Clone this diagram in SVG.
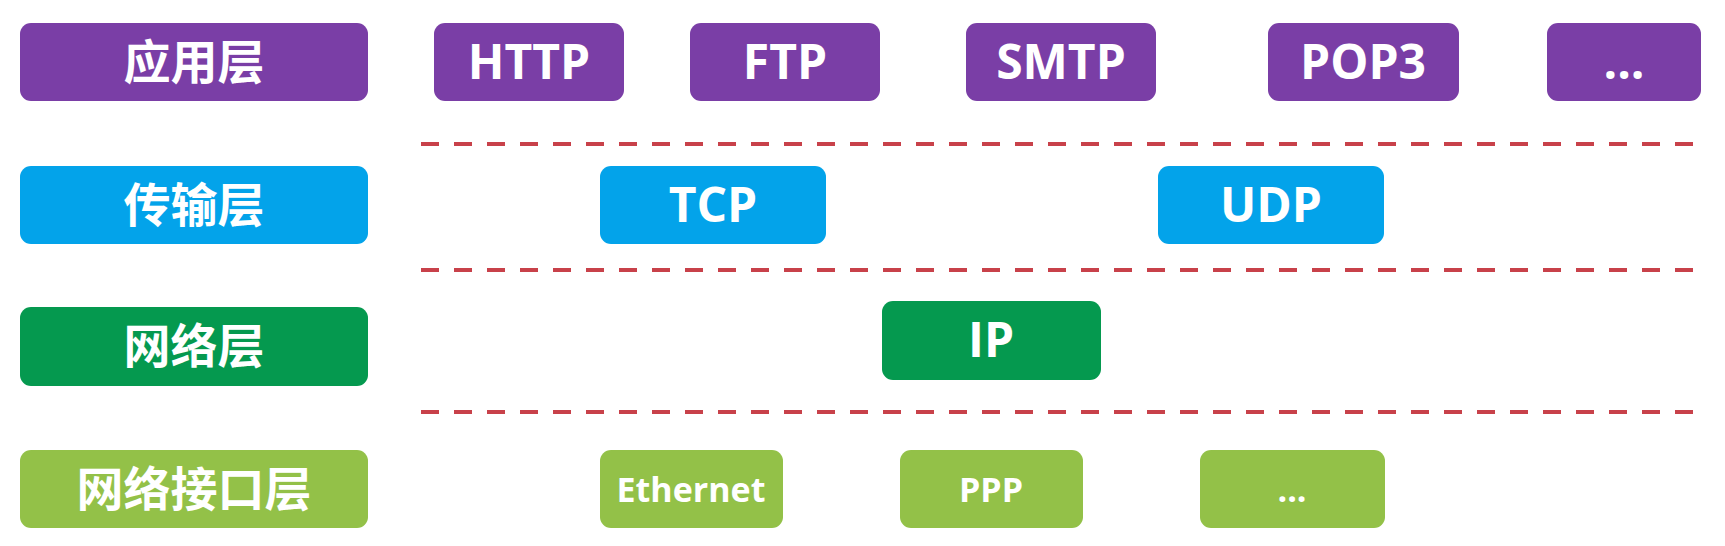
<svg xmlns="http://www.w3.org/2000/svg" width="1725" height="546" viewBox="0 0 1725 546">
<style>
.box{rx:11px;ry:11px}
.p{fill:#7a3ea6}
.b{fill:#03a3ea}
.g{fill:#05994f}
.l{fill:#93c148}
.cn{font-family:"Noto Sans CJK SC","Noto Sans",sans-serif;font-weight:700;font-size:47px;fill:#fff;text-anchor:middle}
.en{font-family:"Open Sans","Liberation Sans",sans-serif;font-weight:700;font-size:48px;fill:#fff;text-anchor:middle}
.sm{font-size:34px}
.dash{stroke:#c8414a;stroke-width:4;stroke-dasharray:18 15;fill:none}
</style>
<rect width="1725" height="546" fill="#fff"/>
<g id="connectors">
<line class="dash" x1="421" y1="144" x2="1703" y2="144"/>
<line class="dash" x1="421" y1="270" x2="1703" y2="270"/>
<line class="dash" x1="421" y1="412" x2="1703" y2="412"/>
</g>
<g id="app-layer"><rect class="box p" x="20" y="23" width="348" height="78"/><text class="cn" x="194" y="79">应用层</text></g>
<g id="http"><rect class="box p" x="434" y="23" width="190" height="78"/><text class="en" x="529" y="79">HTTP</text></g>
<g id="ftp"><rect class="box p" x="690" y="23" width="190" height="78"/><text class="en" x="785" y="79">FTP</text></g>
<g id="smtp"><rect class="box p" x="966" y="23" width="190" height="78"/><text class="en" x="1061" y="79">SMTP</text></g>
<g id="pop3"><rect class="box p" x="1268" y="23" width="191" height="78"/><text class="en" x="1363" y="79">POP3</text></g>
<g id="app-more"><rect class="box p" x="1547" y="23" width="154" height="78"/><text class="en" x="1624" y="79">...</text></g>

<g id="transport-layer"><rect class="box b" x="20" y="166" width="348" height="78"/><text class="cn" x="194" y="222">传输层</text></g>
<g id="tcp"><rect class="box b" x="600" y="166" width="226" height="78"/><text class="en" x="713" y="222">TCP</text></g>
<g id="udp"><rect class="box b" x="1158" y="166" width="226" height="78"/><text class="en" x="1271" y="222">UDP</text></g>

<g id="network-layer"><rect class="box g" x="20" y="307" width="348" height="79"/><text class="cn" x="194" y="363">网络层</text></g>
<g id="ip"><rect class="box g" x="882" y="301" width="219" height="79"/><text class="en" x="991" y="357">IP</text></g>

<g id="link-layer"><rect class="box l" x="20" y="450" width="348" height="78"/><text class="cn" x="194" y="506">网络接口层</text></g>
<g id="ethernet"><rect class="box l" x="600" y="450" width="183" height="78"/><text class="en sm" x="691" y="502">Ethernet</text></g>
<g id="ppp"><rect class="box l" x="900" y="450" width="183" height="78"/><text class="en sm" x="991" y="502">PPP</text></g>
<g id="link-more"><rect class="box l" x="1200" y="450" width="185" height="78"/><text class="en sm" x="1292" y="502">...</text></g>
</svg>
